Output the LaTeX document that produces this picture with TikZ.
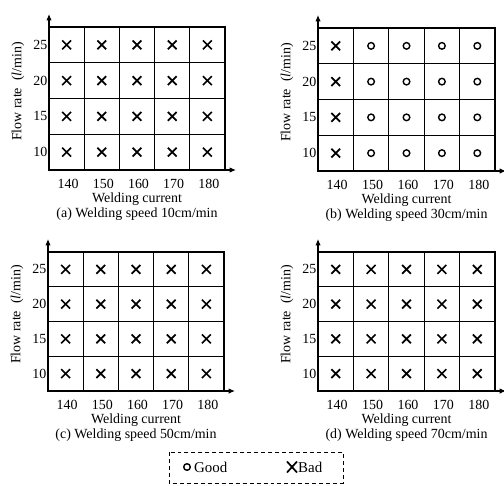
\documentclass[tikz,border=0pt]{standalone}
\usepackage{fontspec}
\setmainfont{Liberation Serif}
\usetikzlibrary{arrows.meta}
\tikzset{
  gridline/.style={line width=1.1pt},
  axisline/.style={line width=1.1pt,-{Latex[length=6.5pt,width=5.5pt]}},
  xmark/.style={line width=1.7pt},
  omark/.style={line width=1.4pt},
  lbl/.style={font=\fontsize{14}{15}\selectfont, inner sep=0pt},
  leglbl/.style={font=\fontsize{15}{16}\selectfont, inner sep=0pt},
  legbox/.style={line width=1pt, dash pattern=on 4pt off 3pt},
}
% cross mark centred at (#1,#2)
\newcommand\mkCross[2]{\draw[xmark,shift={({#1},{#2})}] (-4.4,-4.4) -- (4.4,4.4) (-4.4,4.4) -- (4.4,-4.4);}
\newcommand\mkRing[2]{\draw[omark] ({#1},{#2}) circle[radius=3.3bp];}
% #1 gx, #2 gy, #3 width, #4 height, #5 caption, #6 prefix, #7 number of bad columns
\newcommand\weldpanel[7]{%
\begin{scope}[shift={(#1,#2)}]
  \pgfmathsetmacro\cw{#3/5}
  \pgfmathsetmacro\rh{#4/4}
  \draw[gridline] (0,0) rectangle (#3,#4);
  \foreach \i in {1,...,4} \draw[gridline] ({\i*\cw},0) -- ({\i*\cw},#4);
  \foreach \j in {1,2,3} \draw[gridline] (0,{\j*\rh}) -- (#3,{\j*\rh});
  \coordinate (#6o) at (0,#4);
  \coordinate (#6ytip) at (0,-13);
  \coordinate (#6xtip) at ({#3+11},#4);
  \draw[axisline] (#6o) -- (#6ytip);
  \draw[axisline] (#6o) -- (#6xtip);
  \foreach \v [count=\j from 0] in {25,20,15,10}
    \node[lbl,anchor=east] (#6y\v) at (-1.5,{(\j+0.5)*\rh}) {\v};
  \foreach \v [count=\i from 0] in {140,150,160,170,180}
    \node[lbl] (#6x\v) at ({(\i+0.5)*\cw+1.5},{#4+14}) {\v};
  \node[lbl] (#6xl) at ({#3/2},{#4+29}) {Welding current};
  \node[lbl] (#6cap) at ({#3/2},{#4+44}) {#5};
  \node[lbl,rotate=90] (#6yl) at (-31,{#4/2-7}) {Flow rate\ \ (\textit{l}/min)};
  \foreach \i in {0,...,4} {
    \foreach \j in {0,...,3} {
      \pgfmathsetmacro\mx{(\i+0.5)*\cw}
      \pgfmathsetmacro\my{(\j+0.5)*\rh}
      \ifnum\i<#7\relax
        \mkCross{\mx}{\my}
      \else
        \mkRing{\mx}{\my}
      \fi
    }
  }
\end{scope}}
\begin{document}
\begin{tikzpicture}[x=1bp,y=-1bp]
  \useasboundingbox (0,0) rectangle (504,486);
  \weldpanel{49}{27}{176}{143}{(a) Welding speed 10cm/min}{a}{5}
  \weldpanel{318}{28}{177}{143}{(b) Welding speed 30cm/min}{b}{1}
  \weldpanel{48}{252}{176}{139}{(c) Welding speed 50cm/min}{c}{5}
  \weldpanel{318}{252}{177}{139}{(d) Welding speed 70cm/min}{d}{5}
  % legend
  \draw[legbox] (169,452) rectangle (343,483);
  \mkRing{187}{467}
  \node[leglbl,anchor=west] (good) at (194,467) {Good};
  \draw[xmark,shift={(292,467)}] (-5,-5.5) -- (5,5.5) (-5,5.5) -- (5,-5.5);
  \node[leglbl,anchor=west] (bad) at (298,467) {Bad};
\end{tikzpicture}
\end{document}
